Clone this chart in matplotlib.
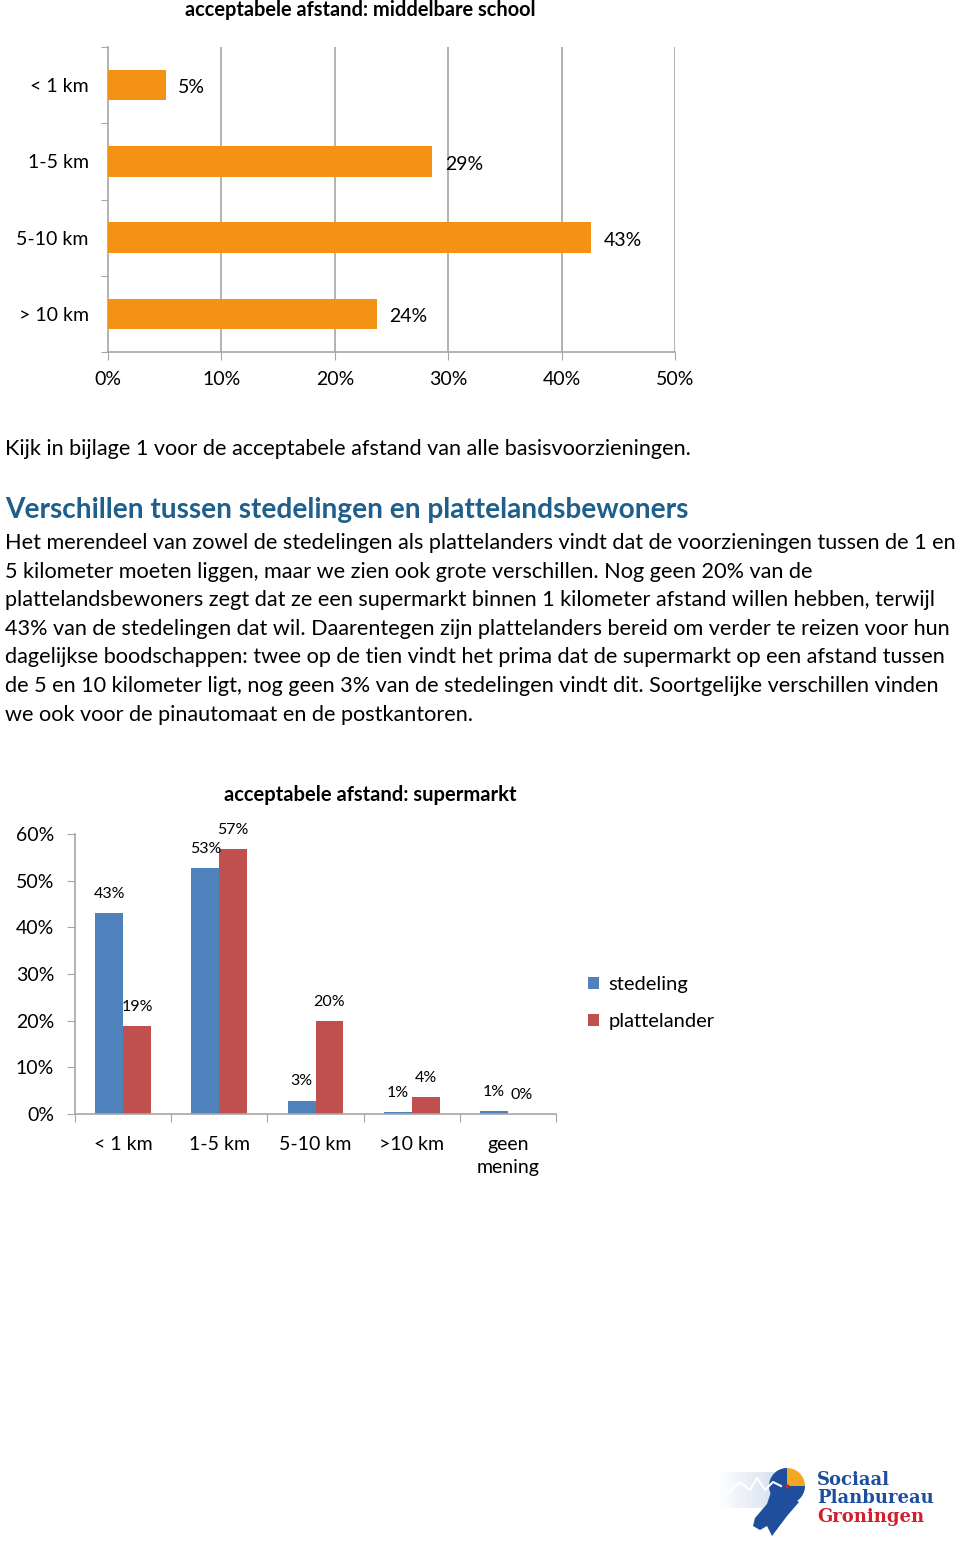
import matplotlib
matplotlib.use("Agg")
import matplotlib.pyplot as plt
from matplotlib.patches import Wedge, Polygon, Rectangle

plt.rcParams['font.family'] = ['Lato', 'DejaVu Sans']

W, H = 960, 1542

# gegevens: middelbare school
school_cat = ["< 1 km", "1-5 km", "5-10 km", "> 10 km"]
school_val = [5.1, 28.6, 42.6, 23.7]
school_ticks = [0, 10, 20, 30, 40, 50]

# gegevens: supermarkt
super_cat = ["< 1 km", "1-5 km", "5-10 km", ">10 km", "geen\nmening"]
stedeling = [43.0, 52.7, 2.8, 0.4, 0.6]
plattelander = [18.8, 56.7, 19.9, 3.6, 0.0]
stedeling_lbl = ["43%", "53%", "3%", "1%", "1%"]
plattelander_lbl = ["19%", "57%", "20%", "4%", "0%"]
super_ticks = [0, 10, 20, 30, 40, 50, 60]

heading = "Verschillen tussen stedelingen en plattelandsbewoners"
body = [
    "Het merendeel van zowel de stedelingen als plattelanders vindt dat de voorzieningen tussen de 1 en",
    "5 kilometer moeten liggen, maar we zien ook grote verschillen. Nog geen 20% van de",
    "plattelandsbewoners zegt dat ze een supermarkt binnen 1 kilometer afstand willen hebben, terwijl",
    "43% van de stedelingen dat wil. Daarentegen zijn plattelanders bereid om verder te reizen voor hun",
    "dagelijkse boodschappen: twee op de tien vindt het prima dat de supermarkt op een afstand tussen",
    "de 5 en 10 kilometer ligt, nog geen 3% van de stedelingen vindt dit. Soortgelijke verschillen vinden",
    "we ook voor de pinautomaat en de postkantoren.",
]

ORANJE = '#F39214'
BLAUW = '#4F81BD'
ROOD = '#C0504D'
GRIJS = '#A6A6A6'


def rect(x0, y0, x1, y1):
    return [x0 / W, 1 - y1 / H, (x1 - x0) / W, (y1 - y0) / H]


def fx(x):
    return x / W


def fy(y):
    return 1 - y / H


fig = plt.figure(figsize=(W / 100, H / 100), dpi=100)

# ---- grafiek 1: middelbare school
ax1 = fig.add_axes(rect(108, 47, 675, 352))
ypos = list(range(len(school_cat)))
ax1.barh(ypos, school_val, height=0.4, color=ORANJE, zorder=3)
ax1.set_xlim(0, 50)
ax1.set_ylim(3.5, -0.5)
for v in school_ticks[1:]:
    ax1.axvline(v, color=GRIJS, lw=1.2, zorder=1)
for i, v in enumerate(school_val):
    ax1.annotate(f"{round(v)}%", (v, i), xytext=(9, -2), textcoords='offset points',
                 va='center', ha='left', fontsize=14)
ax1.set_xticks(school_ticks)
ax1.set_xticklabels([f"{t}%" for t in school_ticks], fontsize=14)
ax1.set_yticks([-0.5, 0.5, 1.5, 2.5, 3.5])
ax1.set_yticklabels([])
ax1.set_yticks(ypos, minor=True)
ax1.set_yticklabels(school_cat, minor=True, fontsize=14)
ax1.tick_params(axis='y', which='major', length=5, color=GRIJS)
ax1.tick_params(axis='y', which='minor', length=0, pad=14)
ax1.tick_params(axis='x', length=6, color=GRIJS, pad=8)
for s in ['top', 'right']:
    ax1.spines[s].set_visible(False)
for s in ['left', 'bottom']:
    ax1.spines[s].set_color(GRIJS)
    ax1.spines[s].set_linewidth(1.2)
fig.text(fx(360), fy(10), "acceptabele afstand: middelbare school", ha='center', va='center',
         fontsize=14.4, fontweight='bold')

# ---- tekst
fig.text(fx(5), fy(449), "Kijk in bijlage 1 voor de acceptabele afstand van alle basisvoorzieningen.",
         ha='left', va='center', fontsize=15.6)
fig.text(fx(5), fy(510), heading, ha='left', va='center', fontsize=20.2, fontweight='bold',
         color='#1F5F8B')
for k, regel in enumerate(body):
    fig.text(fx(5), fy(543 + k * 28.6), regel, ha='left', va='center', fontsize=15.6)

# ---- grafiek 2: supermarkt
ax2 = fig.add_axes(rect(75, 834, 556, 1114))
xpos = list(range(len(super_cat)))
bw = 0.29
b1 = ax2.bar([x - bw / 2 for x in xpos], stedeling, width=bw, color=BLAUW, label='stedeling')
b2 = ax2.bar([x + bw / 2 for x in xpos], plattelander, width=bw, color=ROOD, label='plattelander')
for x, v, t in zip(xpos, stedeling, stedeling_lbl):
    ax2.annotate(t, (x - bw / 2, v), xytext=(0, 14), textcoords='offset points',
                 ha='center', va='center', fontsize=11.5)
for x, v, t in zip(xpos, plattelander, plattelander_lbl):
    ax2.annotate(t, (x + bw / 2, v), xytext=(0, 14), textcoords='offset points',
                 ha='center', va='center', fontsize=11.5)
ax2.set_xlim(-0.5, 4.5)
ax2.set_ylim(0, 60)
ax2.set_yticks(super_ticks)
ax2.set_yticklabels([f"{t}%" for t in super_ticks], fontsize=14)
ax2.tick_params(axis='y', length=6, color=GRIJS, pad=9)
ax2.set_xticks([-0.5, 0.5, 1.5, 2.5, 3.5, 4.5])
ax2.set_xticklabels([])
ax2.set_xticks(xpos, minor=True)
ax2.set_xticklabels(super_cat, minor=True, fontsize=14, linespacing=1.45, va='top')
ax2.tick_params(axis='x', which='major', length=6, color=GRIJS)
ax2.tick_params(axis='x', which='minor', length=0, pad=15.5)
for s in ['top', 'right']:
    ax2.spines[s].set_visible(False)
for s in ['left', 'bottom']:
    ax2.spines[s].set_color(GRIJS)
    ax2.spines[s].set_linewidth(1.2)
fig.text(fx(370), fy(795), "acceptabele afstand: supermarkt", ha='center', va='center',
         fontsize=14.5, fontweight='bold')
fig.legend(handles=[b1, b2], loc='center left', bbox_to_anchor=(fx(580), fy(1003)),
           frameon=False, fontsize=14.5, handlelength=0.55, handleheight=0.55,
           handletextpad=0.45, labelspacing=1.0, borderaxespad=0)

# ---- logo
lg = fig.add_axes(rect(715, 1460, 960, 1540))
lg.set_xlim(0, 245)
lg.set_ylim(80, 0)
lg.axis('off')
for j in range(14):
    lg.add_patch(Rectangle((5 + j * 4.5, 12), 4.5, 36, color=BLAUW, alpha=0.02 + j * 0.018, lw=0))
lg.plot([12, 25, 35, 42, 50, 58, 66], [34, 22, 30, 18, 30, 22, 26], color='white', lw=1.5)
lg.add_patch(Polygon([[58, 26], [52, 44], [40, 58], [38, 66], [45, 70], [52, 66], [57, 76],
                      [63, 68], [72, 56], [84, 42]], closed=True, color='#1F4E9C', lw=0))
lg.add_patch(Wedge((72, 26), 18, 0, 270, color='#1F4E9C', lw=0))
lg.add_patch(Wedge((72, 26), 18, 270, 360, color='#F5A623', lw=0))
lg.plot([72], [26], 'o', color='#D0202E', ms=2)
lg.text(102, 20, "Sociaal", fontsize=13, fontweight='bold', family='DejaVu Serif',
        color='#1F4E9C', va='center')
lg.text(102, 38, "Planbureau", fontsize=13, fontweight='bold', family='DejaVu Serif',
        color='#1F4E9C', va='center')
lg.text(102, 57, "Groningen", fontsize=13, fontweight='bold', family='DejaVu Serif',
        color='#D0202E', va='center')

fig.savefig("out.png", dpi=100)
